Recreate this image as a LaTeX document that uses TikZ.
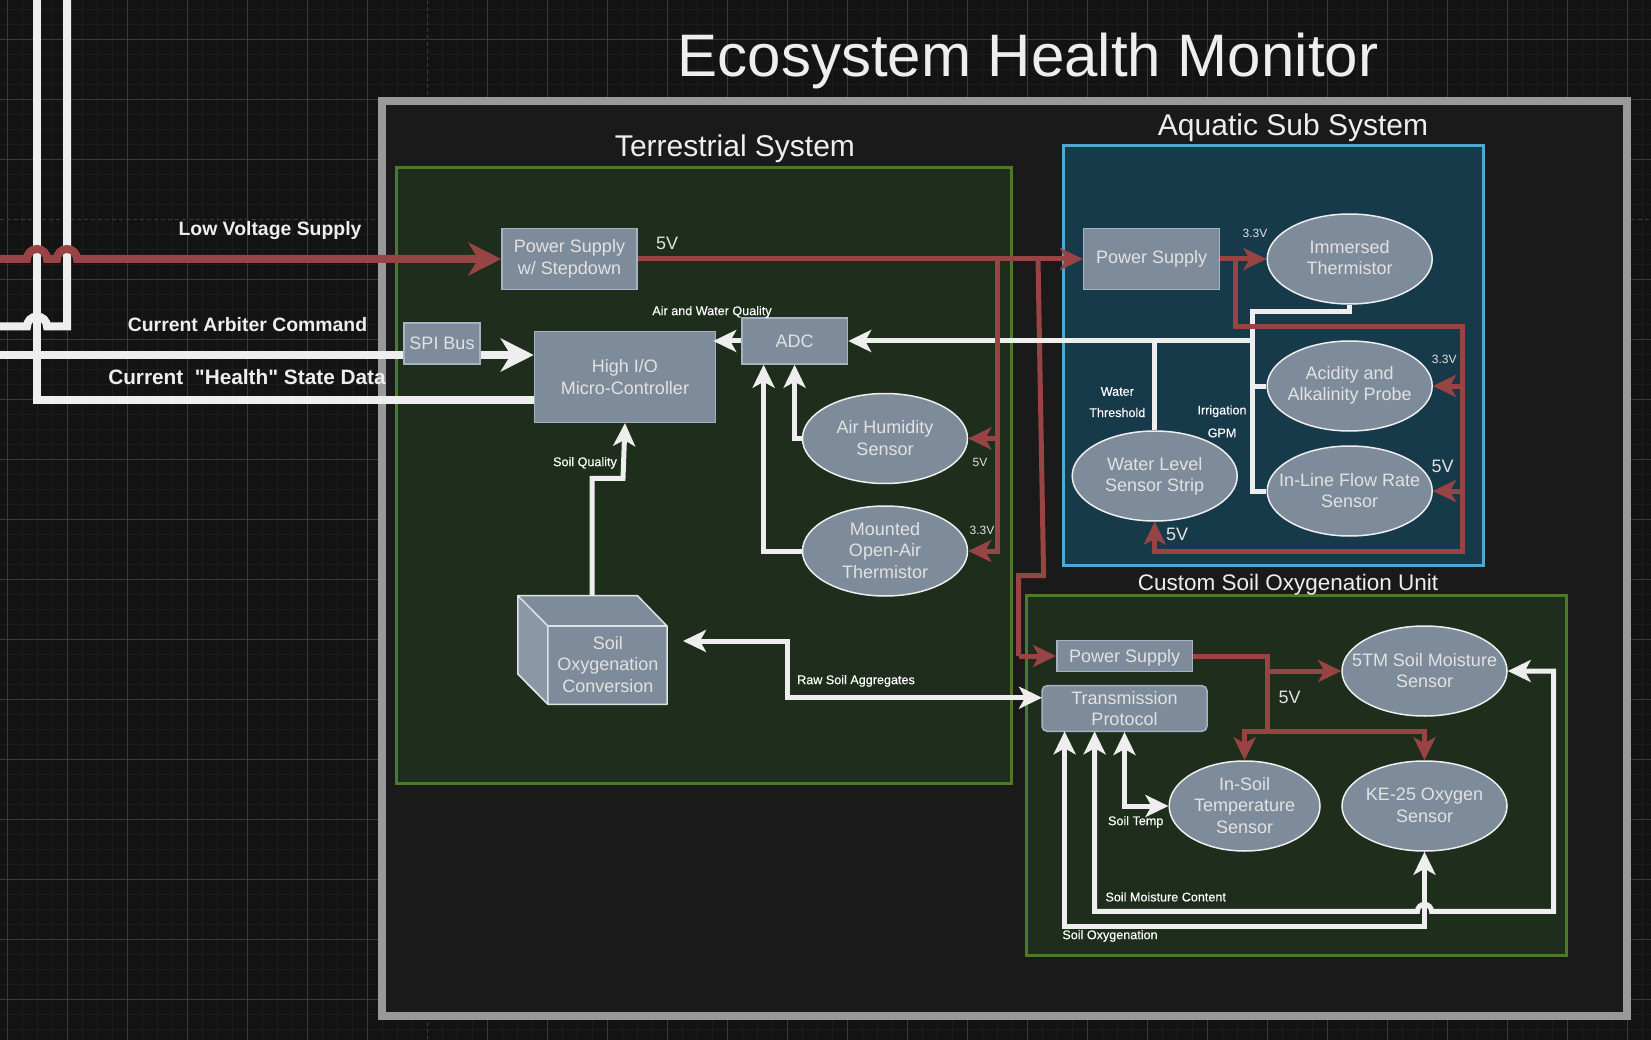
\documentclass[tikz,border=0pt]{standalone}
\usepackage{fontspec}
\setmainfont{Liberation Sans}
\newfontfamily\rawfont{Liberation Sans}
\newfontfamily\medfont{Liberation Sans}[FakeBold=0.25]
\usetikzlibrary{arrows.meta,shapes.geometric}
\definecolor{pagebg}{HTML}{131313}
\definecolor{gridminor}{HTML}{1D1D1D}
\definecolor{gridmajor}{HTML}{3A3A3A}
\definecolor{frameline}{HTML}{999999}
\definecolor{framefill}{HTML}{1A1A1A}
\definecolor{greenline}{HTML}{4B7A2E}
\definecolor{greenfill}{HTML}{1E2D1C}
\definecolor{blueline}{HTML}{4FA8D0}
\definecolor{bluefill}{HTML}{173A4A}
\definecolor{nodefill}{HTML}{7D8B9B}
\definecolor{nodeline}{HTML}{A3B3C2}
\definecolor{lightface}{HTML}{8A97A6}
\definecolor{wirewhite}{HTML}{EEEEEE}
\definecolor{wirered}{HTML}{994444}
\definecolor{inktext}{HTML}{E2E2E2}
\tikzset{
  x=1pt,y=-1pt,
  tipS/.tip={Stealth[length=23pt,width=22pt,inset=6pt]},
  tipL/.tip={Stealth[length=33pt,width=33pt,inset=10pt]},
  boxnode/.style={draw=nodeline,fill=nodefill,line width=1.5pt,inner sep=0pt,align=center,text=inktext,font=\fontsize{18}{21.5}\selectfont},
  ovalnode/.style={ellipse,draw=wirewhite,fill=nodefill,line width=1.5pt,inner sep=0pt,minimum width=165pt,minimum height=90pt},
  ovaltext/.style={inner sep=0pt,align=center,text=inktext,font=\fontsize{18}{21.5}\selectfont,yshift=0.6pt},
  wire/.style={draw=wirewhite,line width=5pt,line join=miter},
  wireheavy/.style={draw=wirewhite,line width=8pt,line join=miter},
  redw/.style={draw=wirered,line width=5pt,line join=miter},
  redheavy/.style={draw=wirered,line width=8pt,line join=miter},
  lab/.style={text=white,inner sep=0pt,align=center,yshift=-1.2pt,font=\medfont\fontsize{12.6}{14}\selectfont},
  volts/.style={text=inktext,inner sep=0pt,yshift=-1pt,font=\fontsize{12}{14}\selectfont},
  voltb/.style={text=inktext,inner sep=0pt,font=\fontsize{18}{21}\selectfont},
  side/.style={text=wirewhite,inner sep=0pt,font=\bfseries\fontsize{19.4}{23}\selectfont},
  head/.style={text=wirewhite,inner sep=0pt,font=\fontsize{30}{36}\selectfont},
}
\begin{document}
\begin{tikzpicture}
\useasboundingbox (0,0) rectangle (1651,1040);
\fill[pagebg] (0,0) rectangle (1651,1040);
% grid
\foreach \gx in {7.5,22.5,...,1651} \draw[gridminor,line width=1pt] (\gx,0) -- (\gx,1040);
\foreach \gy in {9.7,24.7,...,1040} \draw[gridminor,line width=1pt] (0,\gy) -- (1651,\gy);
\foreach \gx in {7.5,67.5,...,1651} \draw[gridmajor,line width=1pt] (\gx,0) -- (\gx,1040);
\foreach \gy in {39.7,99.7,...,1040} \draw[gridmajor,line width=1pt] (0,\gy) -- (1651,\gy);
\draw[pagebg,line width=1.4pt] (427.5,0) -- (427.5,1040);
\draw[pagebg,line width=1.4pt] (0,219.7) -- (1651,219.7);
\draw[gridmajor,line width=1pt,dash pattern=on 4pt off 3pt] (427.5,0) -- (427.5,1040);
\draw[gridmajor,line width=1pt,dash pattern=on 4pt off 3pt] (0,219.7) -- (1651,219.7);
% frames
\draw[frameline,fill=framefill,line width=7.7pt] (382.2,101.2) rectangle (1627.2,1016.2);
\draw[greenline,fill=greenfill,line width=3pt] (396.8,168) rectangle (1011.6,783.4);
\draw[blueline,fill=bluefill,line width=3pt] (1063.8,145.5) rectangle (1483.5,565.3);
\draw[greenline,fill=greenfill,line width=3pt] (1026.5,595.5) rectangle (1566.5,955.5);
% soil box body
\node[minimum width=149pt,minimum height=108.6pt,inner sep=0pt] (soilbox) at (592.5,650) {};
\draw[draw=wirewhite!80!nodeline,fill=nodefill,line width=1.5pt,line join=round]
  (517.9,595.7) -- (637.5,595.7) -- (667,626) -- (667,704.3) -- (547.9,704.3) -- (517.9,674) -- cycle;
\draw[draw=wirewhite!80!nodeline,fill=lightface,line width=1.5pt,line join=round]
  (517.9,595.7) -- (547.9,626) -- (547.9,704.3) -- (517.9,674) -- cycle;
\draw[draw=wirewhite!80!nodeline,line width=1.5pt] (547.9,626) -- (667,626);
\node[inner sep=0pt,align=center,text=inktext,font=\fontsize{18}{21.5}\selectfont] (soiltext) at (607.9,664.5) {Soil\\Oxygenation\\Conversion};
% nodes
\node[boxnode,minimum width=135pt,minimum height=61pt] (psT) at (569.5,259) {Power Supply\\w/ Stepdown};
\node[boxnode,minimum width=76pt,minimum height=41pt] (spi) at (442,343.5) {SPI Bus};
\node[boxnode,minimum width=181pt,minimum height=90.6pt] (mcu) at (625,377) {High I/O\\Micro-Controller};
\node[boxnode,minimum width=105.7pt,minimum height=46pt] (adc) at (794.6,341) {ADC};
\node[ovalnode,label={[ovaltext]center:{Air Humidity\\Sensor}}] (airH) at (885,438.5) {};
\node[ovalnode,label={[ovaltext]center:{Mounted\\Open-Air\\Thermistor}}] (mount) at (885,551) {};
\node[boxnode,minimum width=136pt,minimum height=61pt] (psA) at (1151.7,259) {Power Supply};
\node[ovalnode,label={[ovaltext,yshift=0.8pt]center:{Immersed\\Thermistor}}] (imm) at (1349.7,259) {};
\node[ovalnode,label={[ovaltext]center:{Acidity and\\Alkalinity Probe}}] (aci) at (1349.7,386) {};
\node[ovalnode,label={[ovaltext]center:{In-Line Flow Rate\\Sensor}}] (flow) at (1349.7,491) {};
\node[ovalnode,label={[ovaltext,yshift=-1pt]center:{Water Level\\Sensor Strip}}] (wat) at (1154.7,476) {};
\node[boxnode,minimum width=135.7pt,minimum height=31pt,text depth=0pt] (psS) at (1124.6,656) {Power Supply};
\node[boxnode,rounded corners=5pt,minimum width=165pt,minimum height=45.6pt] (tx) at (1124.5,708.5) {Transmission\\Protocol};
\node[ovalnode,label={[ovaltext]center:{5TM Soil Moisture\\Sensor}}] (tm) at (1424.5,671) {};
\node[ovalnode,label={[ovaltext]center:{KE-25 Oxygen\\Sensor}}] (ke) at (1424.5,806) {};
\node[ovalnode,minimum width=150.8pt,label={[ovaltext]center:{In-Soil\\Temperature\\Sensor}}] (stemp) at (1244.6,806) {};
% junction coordinates
\coordinate (vA) at (37,0);
\coordinate (vB) at (67,0);
\coordinate (cmdL) at (0,326.5);
\coordinate (cmdA) at (47,326.5);
\coordinate (cmdB) at (67,326.5);
\coordinate (spiL) at (0,355);
\coordinate (hlth) at (37,399.7);
\coordinate (redL) at (0,259);
\coordinate (redA) at (27,259);
\coordinate (redB) at (57,259);
\coordinate (r1) at (997,259);
\coordinate (r2) at (1038,259);
\coordinate (r2a) at (1043.6,575.7);
\coordinate (r2b) at (1018.6,575.7);
\coordinate (r2c) at (1018.6,656);
\coordinate (r3) at (1235.7,259);
\coordinate (r3a) at (1235.7,326.3);
\coordinate (r3b) at (1462.3,326.3);
\coordinate (r3c) at (1462.3,551.7);
\coordinate (wv) at (1252.3,311.3);
\coordinate (jw) at (1252.3,341);
\coordinate (sq1) at (592,595.7);
\coordinate (sq2) at (592,478.3);
\coordinate (sq3) at (623,478.3);
\coordinate (rawL) at (683,641);
\coordinate (rawM1) at (787.5,641);
\coordinate (rawM2) at (787.5,697.7);
\coordinate (rawE) at (1042,697.7);
\coordinate (rs) at (1267,656);
\coordinate (rb) at (1267,731);
\coordinate (txM) at (1094.6,731.3);
\coordinate (txO) at (1064.6,731.3);
\coordinate (moA) at (1094.6,911.3);
\coordinate (moB) at (1417.5,911.3);
\coordinate (moC) at (1553.6,911.3);
\coordinate (moD) at (1553.6,671);
\coordinate (oxA) at (1064.6,926.3);
\coordinate (oxB) at (1424.5,926.3);
% connectors: lowest first
\draw[wireheavy] (vB) -- (cmdB) -- (cmdA) arc[start angle=0,end angle=180,radius=10pt] -- (cmdL);
\draw[wireheavy] (vA) -- (hlth) -- (hlth -| mcu.west);
\draw[wireheavy] (spiL) -- (spiL -| spi.west);
\draw[wireheavy,-tipL] (spiL -| spi.east) -- (spiL -| mcu.west);
\draw[redheavy,-tipL] (redL) -- (redA) arc[start angle=180,end angle=0,radius=10pt] -- (redB) arc[start angle=180,end angle=0,radius=10pt] -- (psT.west);
\draw[redw] (r2) -- (r2a) -- (r2b) -- (r2c);
\draw[redw,-tipS] (r2c) -- (psS.west);
\draw[wire,-tipS] (jw) -- (adc.east);
\draw[redw,-tipS] (psT.east) -- (psA.west);
\draw[redw,-tipS] (r1) |- (mount.east);
\draw[redw,-tipS] (r1 |- airH.east) -- (airH.east);
\draw[wire,-tipS] (adc.west) -- ([xshift=-3pt]adc.west -| mcu.east);
\draw[wire,-tipS] (airH.west) -| (adc.south);
\draw[wire,-tipS] (mount.west) -| ([xshift=-31pt]adc.south);
\draw[wire,-tipS] (sq1) -- (sq2) -- (sq3) -- (mcu.south);
\draw[wire,tipS-tipS] (rawL) -- (rawM1) -- (rawM2) -- (rawE);
% aquatic
\draw[wire] (imm.south) |- (wv) -- (wv |- flow.west) -- (flow.west);
\draw[wire] (wv |- aci.west) -- (aci.west);
\draw[wire] (wat.north) -- (wat.north |- jw);
\draw[wire] (wat.north |- jw) -- (jw);
\draw[redw,-tipS] (psA.east) -- (imm.west);
\draw[redw,-tipS] (r3) -- (r3a) -- (r3b) -- (r3c) -| (wat.south);
\draw[redw,-tipS] (r3b |- aci.east) -- (aci.east);
\draw[redw,-tipS] (r3b |- flow.east) -- (flow.east);
% soil unit
\draw[redw] (psS.east) -- (rs) -- (rb);
\draw[redw,-tipS] (rs |- tm.west) -- (tm.west);
\draw[redw,-tipS] (rb) -| (stemp.north);
\draw[redw,-tipS] (rb) -| (ke.north);
\draw[wire,tipS-tipS] (tx.south) |- (stemp.west);
\draw[wire,tipS-tipS] (txO) -- (oxA) -- (oxB) -- (ke.south);
\draw[wire,tipS-tipS] (txM) -- (moA) -- (moB) arc[start angle=180,end angle=0,radius=7pt] -- (moC) -- (moD) -- (tm.east);
% texts
\node[text=wirewhite,inner sep=0pt,font=\fontsize{60}{70}\selectfont] (title) at (1028,60.8) {Ecosystem Health Monitor};
\node[head] (tTerr) at (735,149) {Terrestrial System};
\node[head] (tAqua) at (1293,127.6) {Aquatic Sub System};
\node[text=wirewhite,inner sep=0pt,font=\fontsize{22.5}{27}\selectfont] (tSoil) at (1288,584.5) {Custom Soil Oxygenation Unit};
\node[side] (sLow) at (270,231) {Low Voltage Supply};
\node[side] (sCmd) at (247.5,325) {Current Arbiter Command};
\node[side,font=\rawfont\bfseries\fontsize{20.8}{24}\selectfont] (sHlth) at (247,377) {Current\ \ "Health" State Data};
\node[voltb] (v5a) at (667,243) {5V};
\node[lab] (lAW) at (712,310.7) {Air and Water Quality};
\node[lab] (lSQ) at (585,461.7) {Soil Quality};
\node[lab] (lRaw) at (856,679.7) {Raw Soil Aggregates};
\node[volts] (v5b) at (980,461.7) {5V};
\node[volts] (v33a) at (982,529) {3.3V};
\node[volts] (v33b) at (1255,232.7) {3.3V};
\node[volts] (v33c) at (1444.3,358.7) {3.3V};
\node[voltb] (v5c) at (1442.7,466) {5V};
\node[voltb] (v5d) at (1177,534) {5V};
\node[lab] (lW1) at (1117.3,390.3) {Water};
\node[lab] (lW2) at (1117.3,411.3) {Threshold};
\node[lab] (lI1) at (1222,410) {Irrigation};
\node[lab] (lI2) at (1222,431.7) {GPM};
\node[voltb] (v5e) at (1289.6,697) {5V};
\node[lab] (lTemp) at (1135.7,820.7) {Soil Temp};
\node[lab] (lMoist) at (1165.7,895.7) {Soil Moisture Content};
\node[lab] (lOxy) at (1110,934.7) {Soil Oxygenation};
\end{tikzpicture}
\end{document}
